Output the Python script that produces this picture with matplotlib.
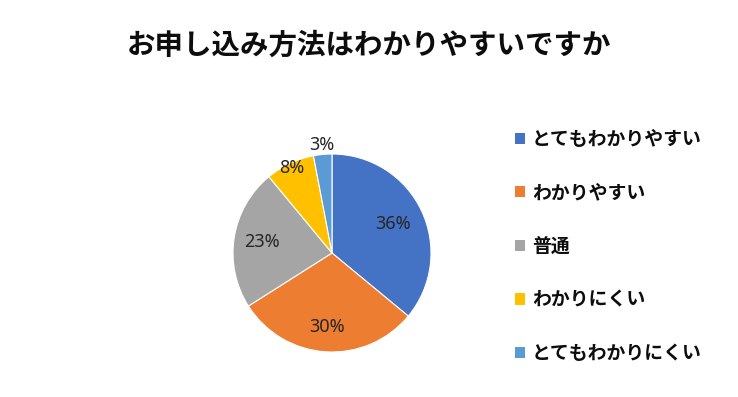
import numpy as np
import matplotlib
matplotlib.use("Agg")
from matplotlib import pyplot as plt
from matplotlib.patches import Patch

plt.rcParams["font.family"] = ["Noto Sans CJK JP", "DejaVu Sans"]

title = "お申し込み方法はわかりやすいですか"
categories = ["とてもわかりやすい", "わかりやすい", "普通", "わかりにくい", "とてもわかりにくい"]
values = [36, 30, 23, 8, 3]
colors = ["#4472C4", "#ED7D31", "#A5A5A5", "#FFC000", "#5B9BD5"]
# how far from the centre each percent label sits (fraction of the radius)
label_dist = [0.68, 0.75, 0.72, 0.95, 1.1]

W, H = 738, 397
fig = plt.figure(figsize=(W / 100, H / 100), dpi=100)

cx, cy, r = 332, 253, 99
ax = fig.add_axes([(cx - r) / W, (H - cy - r) / H, 2 * r / W, 2 * r / H])
wedges, _ = ax.pie(
    values,
    colors=colors,
    startangle=90,
    counterclock=False,
    radius=1,
    wedgeprops=dict(edgecolor="white", linewidth=0.8),
)
ax.set_xlim(-1, 1)
ax.set_ylim(-1, 1)
ax.set_aspect("equal")

total = sum(values)
for w, v, d in zip(wedges, values, label_dist):
    ang = np.deg2rad((w.theta1 + w.theta2) / 2)
    ax.text(d * np.cos(ang), d * np.sin(ang), f"{round(100 * v / total)}%",
            ha="center", va="center", fontsize=13,
            family=["Noto Sans", "DejaVu Sans"], color="#262626",
            clip_on=False)

fig.text(369 / W, 1 - 46 / H, title, ha="center", va="center",
         fontsize=20.5, fontweight="bold", color="#0d0d0d")

handles = [Patch(facecolor=c, edgecolor="none") for c in colors]
fig.legend(handles, categories, loc="upper left",
           bbox_to_anchor=(498 / W, 1 - 113 / H), frameon=False,
           prop=dict(size=13.6, weight="bold"), handlelength=0.53,
           handleheight=0.53, handletextpad=0.36, labelspacing=1.83,
           labelcolor="#0d0d0d")

fig.savefig("out.png", dpi=100)
